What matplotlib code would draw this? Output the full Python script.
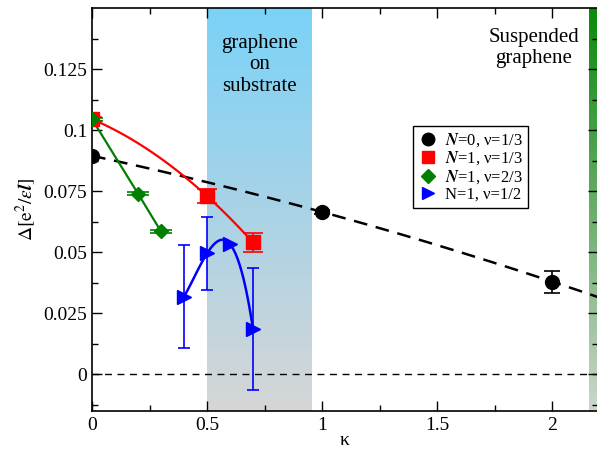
import numpy as np
import matplotlib
matplotlib.use('Agg')
import matplotlib.pyplot as plt
from matplotlib.colors import LinearSegmentedColormap
from matplotlib.lines import Line2D

plt.rcParams['font.family'] = ['Liberation Serif', 'DejaVu Serif']
plt.rcParams['mathtext.fontset'] = 'stix'

# N=0, nu=1/3
k0 = [0.0, 1.0, 2.0]
d0 = [0.0895, 0.0665, 0.038]
e0 = [0.0, 0.0008, 0.0045]
# N=1, nu=1/3
k1 = [0.0, 0.5, 0.7]
d1 = [0.1045, 0.073, 0.054]
e1 = [0.0008, 0.003, 0.0037]
# N=1, nu=2/3
k2 = [0.0, 0.2, 0.3]
d2 = [0.1045, 0.074, 0.0585]
e2 = [0.0006, 0.0006, 0.0006]
# N=1, nu=1/2
k3 = [0.4, 0.5, 0.6, 0.7]
d3 = [0.0318, 0.0495, 0.0533, 0.0185]
e3 = [0.021, 0.015, 0.0, 0.025]

labels = [r'$\mathbfit{N}$=0, ν=1/3', r'$\mathbfit{N}$=1, ν=1/3',
          r'$\mathbfit{N}$=1, ν=2/3', 'N=1, ν=1/2']

fig = plt.figure(figsize=(5.97, 4.49), dpi=100)
ax = fig.add_axes([92/597, 38/449, 506/597, 403/449])
ax.set_xlim(0, 2.2)
ax.set_ylim(-0.015, 0.15)

# shaded regions
grad = np.linspace(0, 1, 256).reshape(-1, 1)
blue_cm = LinearSegmentedColormap.from_list('b', ['#d6d6d6', '#a9d3e6', '#7ad2f8'])
green_cm = LinearSegmentedColormap.from_list('g', ['#ccd6cc', '#6aad6a', '#0a8a0a'])
ax.imshow(grad, cmap=blue_cm, aspect='auto', origin='lower',
          extent=[0.5, 0.955, -0.015, 0.15], zorder=0)
ax.imshow(grad, cmap=green_cm, aspect='auto', origin='lower',
          extent=[2.16, 2.2, -0.015, 0.15], zorder=0)

ax.axhline(0, color='black', ls=(0, (5, 4)), lw=1.0, zorder=1)

# fitted dashed line for N=0
xf = np.linspace(0, 2.2, 200)
ax.plot(xf, np.polyval(np.polyfit(k0, d0, 2), xf), color='black', ls=(0, (5.5, 3.5)), lw=1.8, zorder=2)

# red curve
xr = np.linspace(0, 0.7, 100)
ax.plot(xr, np.polyval(np.polyfit(k1, d1, 2), xr), color='red', lw=1.6, zorder=2)
# green line
ax.plot(k2, d2, color='green', lw=1.6, zorder=2)
# blue curve
xb = np.linspace(0.4, 0.7, 100)
ax.plot(xb, np.polyval(np.polyfit(k3, d3, 3), xb), color='blue', lw=1.8, zorder=2)

styles = [('o', 'black', 10, 6), ('s', 'red', 9.5, 7), ('D', 'green', 7.5, 8), ('>', 'blue', 10, 4)]
data = [(k0, d0, e0), (k1, d1, e1), (k2, d2, e2), (k3, d3, e3)]
handles = []
for (m, c, ms, cs), (k, d, e), lab in zip(styles, data, labels):
    ax.errorbar(k, d, yerr=e, fmt=m, color=c, ms=ms, capsize=cs, elinewidth=1.2,
                capthick=1.2, zorder=3)
    handles.append(Line2D([], [], ls='none', marker=m, color=c, ms=ms * 0.9, label=lab))

leg = ax.legend(handles=handles, loc='upper left', bbox_to_anchor=(0.635, 0.707), fontsize=12,
                frameon=True, fancybox=False, edgecolor='black', framealpha=1, handletextpad=0.4,
                handlelength=1.2, borderpad=0.3, labelspacing=0.05, borderaxespad=0)
leg.get_frame().set_linewidth(1.0)

ax.text(0.727, 0.1395, 'graphene\non\nsubstrate', ha='center', va='top', fontsize=15,
        linespacing=1.2)
ax.text(1.92, 0.142, 'Suspended\ngraphene', ha='center', va='top', fontsize=15,
        linespacing=1.2)

ax.set_xticks([0, 0.5, 1, 1.5, 2])
ax.set_xticklabels(['0', '0.5', '1', '1.5', '2'])
ax.set_xticks(np.arange(0.25, 2.2, 0.5), minor=True)
ax.set_yticks([0, 0.025, 0.05, 0.075, 0.1, 0.125])
ax.set_yticklabels(['0', '0.025', '0.05', '0.075', '0.1', '0.125'])
ax.set_yticks(np.arange(-0.0125, 0.15, 0.025), minor=True)
ax.tick_params(which='both', direction='in', top=True, right=True, labelsize=14, width=1.0)
ax.tick_params(which='major', length=7)
ax.tick_params(which='minor', length=4)
ax.tick_params(axis='x', pad=4)
for s in ax.spines.values():
    s.set_linewidth(1.2)

ax.set_xlabel('κ', fontsize=14, labelpad=-1)
ax.set_ylabel(r'$\Delta[\mathrm{e}^2/\varepsilon \mathbfit{l}]$', fontsize=14, labelpad=4)

fig.savefig('out.png', dpi=100)
